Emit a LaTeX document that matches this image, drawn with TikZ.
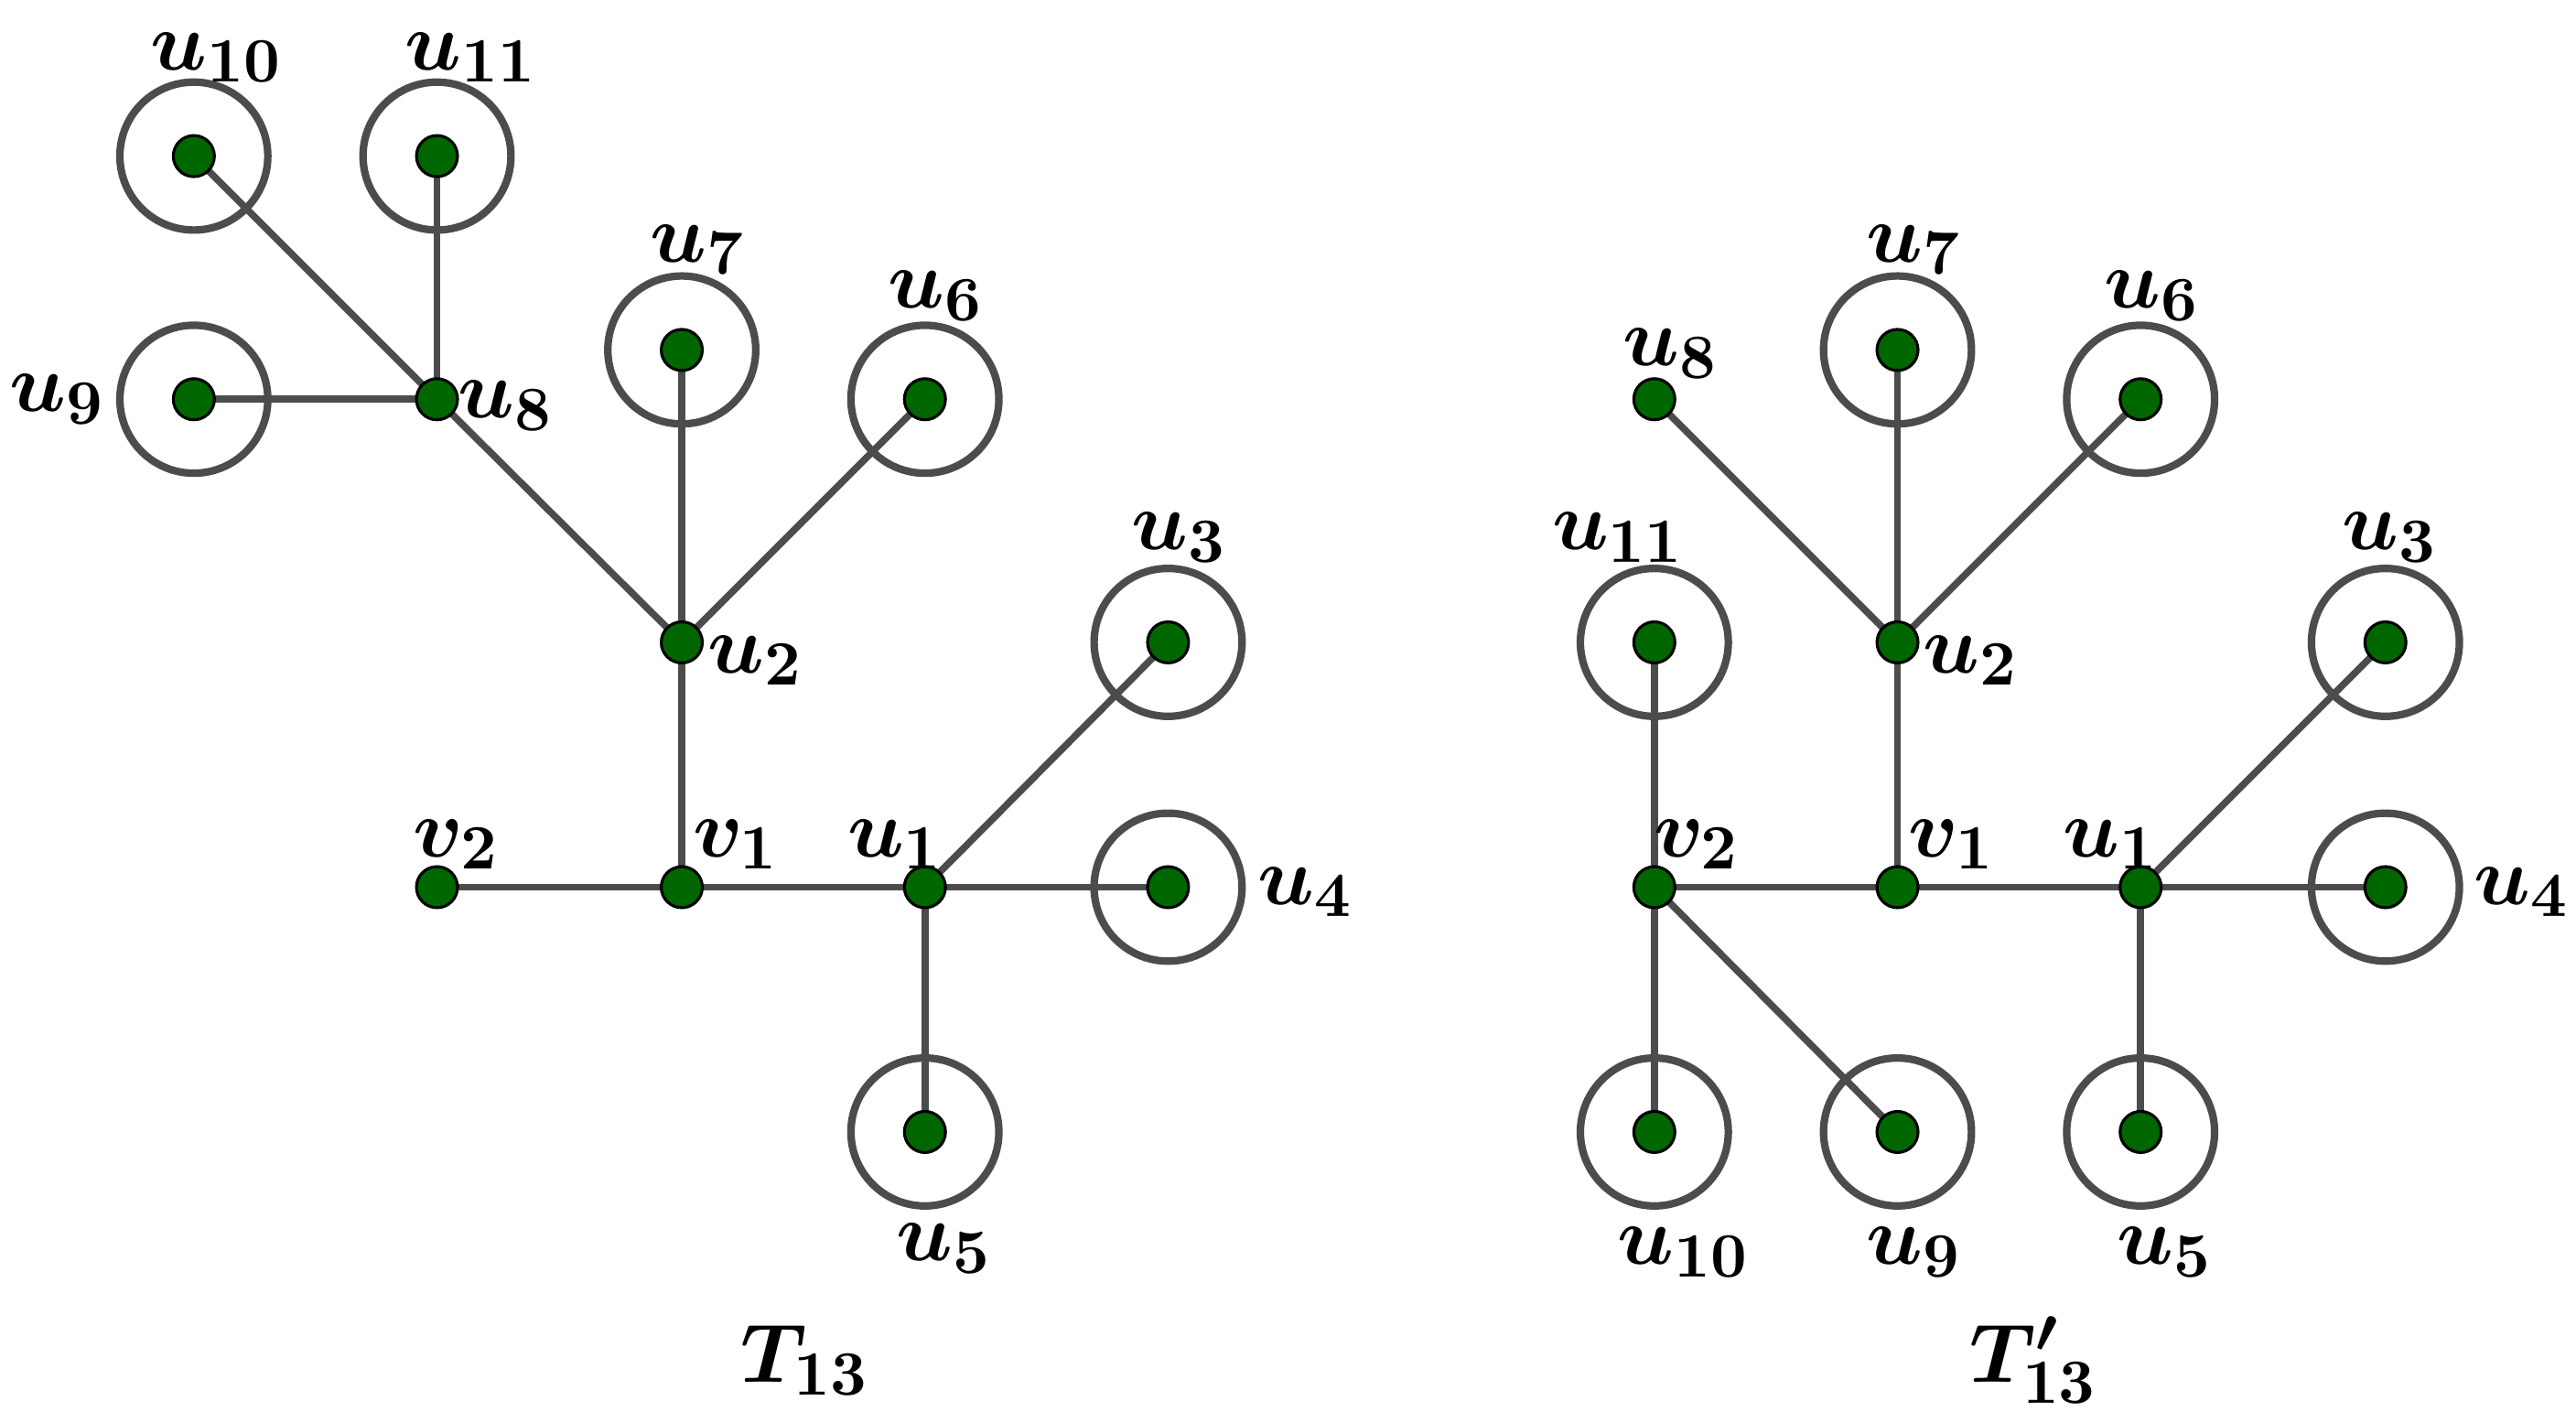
\documentclass[tikz,border=0pt]{standalone}
\usepackage{bm}
\begin{document}
\begin{tikzpicture}[x=0.01cm,y=-0.01cm,
  dot/.style={circle,fill=green!40!black,draw=black,line width=0.5pt,inner sep=0pt,minimum size=0.25cm},
  ring/.style={circle,draw=black!70,line width=1.3pt,inner sep=0pt,minimum size=0.9cm},
  ed/.style={draw=black!70,line width=1.2pt},
  lb/.style={font=\fontsize{15.5}{18}\selectfont,inner sep=0pt}]
\useasboundingbox (0,0) rectangle (1568,866);
\foreach \n/\x/\y in {Lu10/118/95,Lu11/266/95,Lu9/118/243,Lu8/266/243,Lu7/415/213,Lu6/563/243,Lu2/415/391,Lu3/711/391,Lv2/266/540,Lv1/415/540,Lu1/563/540,Lu4/711/540,Lu5/563/689,
  Ru8/1007/243,Ru7/1155/213,Ru6/1303/243,Ru11/1007/391,Ru2/1155/391,Ru3/1452/391,Rv2/1007/540,Rv1/1155/540,Ru1/1303/540,Ru4/1452/540,Ru10/1007/689,Ru9/1155/689,Ru5/1303/689}
  \coordinate (\n) at (\x,\y);
\foreach \n in {Lu10,Lu11,Lu9,Lu7,Lu6,Lu3,Lu4,Lu5,Ru7,Ru6,Ru11,Ru3,Ru4,Ru10,Ru9,Ru5}
  \node[ring] (c\n) at (\n) {};
\foreach \a/\b in {Lu10/Lu8,Lu11/Lu8,Lu9/Lu8,Lu8/Lu2,Lu7/Lu2,Lu6/Lu2,Lu2/Lv1,Lv2/Lv1,Lv1/Lu1,Lu1/Lu3,Lu1/Lu4,Lu1/Lu5,
  Ru8/Ru2,Ru7/Ru2,Ru6/Ru2,Ru2/Rv1,Ru11/Rv2,Rv2/Rv1,Rv1/Ru1,Ru1/Ru3,Ru1/Ru4,Ru1/Ru5,Rv2/Ru10,Rv2/Ru9}
  \draw[ed] (\a) -- (\b);
\foreach \n in {Lu10,Lu11,Lu9,Lu8,Lu7,Lu6,Lu2,Lu3,Lv2,Lv1,Lu1,Lu4,Lu5,Ru8,Ru7,Ru6,Ru11,Ru2,Ru3,Rv2,Rv1,Ru1,Ru4,Ru10,Ru9,Ru5}
  \node[dot] (d\n) at (\n) {};
\node[lb] (tLu10) at (132,35) {$\bm{u_{10}}$};
\node[lb] (tLu11) at (287,35) {$\bm{u_{11}}$};
\node[lb] (tLu9) at (35,243) {$\bm{u_{9}}$};
\node[lb] (tLu8) at (308,247) {$\bm{u_{8}}$};
\node[lb] (tLu7) at (425,152) {$\bm{u_{7}}$};
\node[lb] (tLu6) at (570,180) {$\bm{u_{6}}$};
\node[lb] (tLu2) at (460,402) {$\bm{u_{2}}$};
\node[lb] (tLu3) at (718,327) {$\bm{u_{3}}$};
\node[lb] (tLv2) at (278,514) {$\bm{v_{2}}$};
\node[lb] (tLv1) at (448,514) {$\bm{v_{1}}$};
\node[lb] (tLu1) at (545,514) {$\bm{u_{1}}$};
\node[lb] (tLu4) at (795,543) {$\bm{u_{4}}$};
\node[lb] (tLu5) at (575,760) {$\bm{u_{5}}$};
\node[lb] (tT) at (490,828) {$\bm{T_{13}}$};
\node[lb] (tRu8) at (1017,215) {$\bm{u_{8}}$};
\node[lb] (tRu7) at (1165,152) {$\bm{u_{7}}$};
\node[lb] (tRu6) at (1310,180) {$\bm{u_{6}}$};
\node[lb] (tRu11) at (985,327) {$\bm{u_{11}}$};
\node[lb] (tRu2) at (1200,402) {$\bm{u_{2}}$};
\node[lb] (tRu3) at (1455,327) {$\bm{u_{3}}$};
\node[lb] (tRv2) at (1033,514) {$\bm{v_{2}}$};
\node[lb] (tRv1) at (1188,514) {$\bm{v_{1}}$};
\node[lb] (tRu1) at (1285,514) {$\bm{u_{1}}$};
\node[lb] (tRu4) at (1535,543) {$\bm{u_{4}}$};
\node[lb] (tRu10) at (1025,762) {$\bm{u_{10}}$};
\node[lb] (tRu9) at (1165,762) {$\bm{u_{9}}$};
\node[lb] (tRu5) at (1318,762) {$\bm{u_{5}}$};
\node[lb] (tTp) at (1238,828) {$\bm{T'_{13}}$};
\end{tikzpicture}
\end{document}
